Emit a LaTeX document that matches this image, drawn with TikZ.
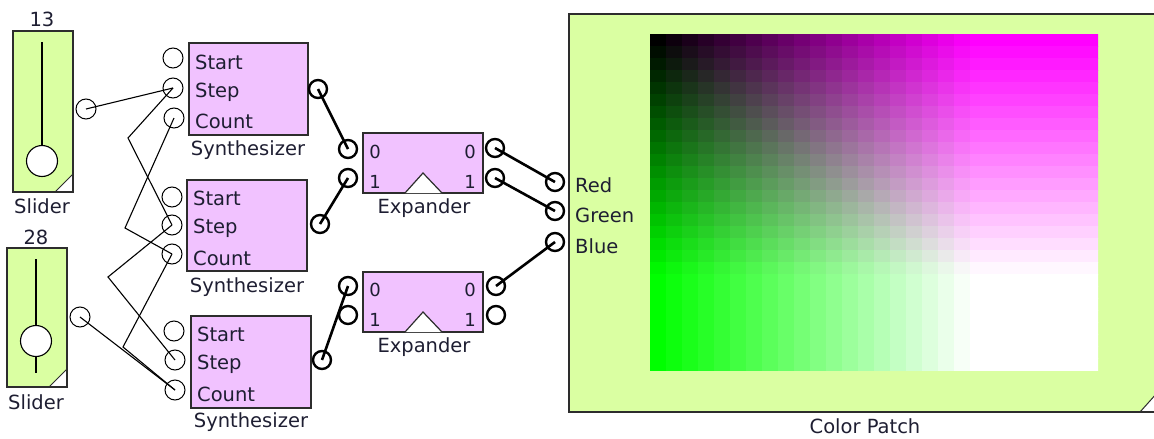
\documentclass[tikz,border=0pt]{standalone}
\usepackage{fontspec}
\setmainfont{DejaVu Sans}
\definecolor{edge}{RGB}{45,45,45}
\definecolor{txt}{RGB}{30,30,50}
\definecolor{sgreen}{RGB}{218,255,162}
\definecolor{spink}{RGB}{241,194,255}
\begin{document}
\begin{tikzpicture}[x=1pt,y=-1pt,
  box/.style={draw=edge,line width=1.4pt},
  tport/.style={circle,draw=black,line width=1pt,fill=white,minimum size=20pt,inner sep=0pt},
  kport/.style={circle,draw=black,line width=2.4pt,fill=white,minimum size=18pt,inner sep=0pt},
  twire/.style={draw=black,line width=1.1pt},
  kwire/.style={draw=black,line width=2.6pt},
  lbl/.style={font=\fontsize{19.5}{23}\selectfont,text=txt,inner sep=0pt},
  dig/.style={font=\fontsize{18}{22}\selectfont,text=txt,inner sep=0pt},
  knob/.style={circle,draw=black,line width=1.1pt,fill=white,minimum size=31pt,inner sep=0pt},
  corner/.style={fill=white,draw=edge,line width=1pt}
]
\useasboundingbox (0,0) rectangle (1154,439);

% ---------- Sliders ----------
\fill[sgreen] (13,31) rectangle (73,192);
\filldraw[corner] (55,192) -- (73,174) -- (73,192) -- cycle;
\draw[box] (13,31) rectangle (73,192);
\draw[line width=1.3pt] (42,42) -- (42,150);
\node[knob] (k1) at (42,161) {};
\node[lbl] (sv1) at (42,19) {13};
\node[lbl] (sl1) at (42,206) {Slider};

\fill[sgreen] (7,248) rectangle (67,387);
\filldraw[corner] (49,387) -- (67,369) -- (67,387) -- cycle;
\draw[box] (7,248) rectangle (67,387);
\draw[line width=1.3pt] (36,259) -- (36,373);
\node[knob] (k2) at (36,341) {};
\node[lbl] (sv2) at (36,237) {28};
\node[lbl] (sl2) at (36,402) {Slider};

% ---------- Synthesizers ----------
\filldraw[box,fill=spink] (189,43) rectangle (308,135);
\node[lbl,anchor=west] at (195,62) {Start};
\node[lbl,anchor=west] at (195,92) {Step};
\node[lbl,anchor=west] at (195,121) {Count};
\node[lbl] (ys1) at (248,150) {Synthesizer};

\filldraw[box,fill=spink] (187,180) rectangle (307,271);
\node[lbl,anchor=west] at (193,198) {Start};
\node[lbl,anchor=west] at (193,228) {Step};
\node[lbl,anchor=west] at (193,258) {Count};
\node[lbl] (ys2) at (247,287) {Synthesizer};

\filldraw[box,fill=spink] (191,316) rectangle (311,408);
\node[lbl,anchor=west] at (197,334) {Start};
\node[lbl,anchor=west] at (197,364) {Step};
\node[lbl,anchor=west] at (197,394) {Count};
\node[lbl] (ys3) at (251,422) {Synthesizer};

% ---------- Expanders ----------
\filldraw[box,fill=spink] (363,133) rectangle (483,193);
\filldraw[fill=white,draw=edge,line width=1.2pt] (405,193) -- (423,173) -- (442,193);
\node[dig] at (375,152) {0};
\node[dig] at (375,182) {1};
\node[dig] at (470,152) {0};
\node[dig] at (470,182) {1};
\node[lbl] (ex1) at (424,208) {Expander};

\filldraw[box,fill=spink] (363,272) rectangle (483,332);
\filldraw[fill=white,draw=edge,line width=1.2pt] (405,332) -- (423,312) -- (442,332);
\node[dig] at (375,290) {0};
\node[dig] at (375,320) {1};
\node[dig] at (470,290) {0};
\node[dig] at (470,320) {1};
\node[lbl] (ex2) at (424,347) {Expander};

% ---------- Color Patch ----------
\fill[sgreen] (569,14) rectangle (1157,412);
\filldraw[corner] (1140,412) -- (1157,393) -- (1157,412) -- cycle;
\draw[box] (569,14) rectangle (1157,412);
\begin{scope}
\clip (650,34) rectangle (1098,370);
\foreach \i in {0,...,27}{
  \foreach \j in {0,...,27}{
    \pgfmathtruncatemacro\rbval{min(255,13*\i)}
    \pgfmathtruncatemacro\gval{min(255,13*\j)}
    \fill[fill={rgb,255:red,\rbval;green,\gval;blue,\rbval}] (650+16*\i,34+12*\j) rectangle ++(16.6,12.6);
  }
}
\end{scope}
\node[lbl,anchor=west] at (575,185) {Red};
\node[lbl,anchor=west] at (575,215) {Green};
\node[lbl,anchor=west] at (575,246) {Blue};
\node[lbl] (cpl) at (865,426) {Color Patch};

% ---------- Ports ----------
\node[tport] (so1) at (86,109) {};
\node[tport] (so2) at (80,317) {};
\node[tport] (a1) at (173,58) {};
\node[tport] (b1) at (173,88) {};
\node[tport] (c1) at (174,118) {};
\node[tport] (a2) at (172,197) {};
\node[tport] (b2) at (172,225) {};
\node[tport] (c2) at (172,254) {};
\node[tport] (a3) at (174,331) {};
\node[tport] (b3) at (175,360) {};
\node[tport] (c3) at (175,390) {};
\node[kport] (o1) at (318,89) {};
\node[kport] (o2) at (320,224) {};
\node[kport] (o3) at (322,360) {};
\node[kport] (e1i0) at (348,149) {};
\node[kport] (e1i1) at (348,178) {};
\node[kport] (e1o0) at (495,148) {};
\node[kport] (e1o1) at (495,178) {};
\node[kport] (e2i0) at (348,286) {};
\node[kport] (e2i1) at (348,315) {};
\node[kport] (e2o0) at (496,286) {};
\node[kport] (e2o1) at (496,315) {};
\node[kport] (pr) at (555,182) {};
\node[kport] (pg) at (555,211) {};
\node[kport] (pb) at (555,242) {};

% ---------- Wires ----------
\coordinate (v1) at (128,138);
\coordinate (v2) at (108,277);
\coordinate (v3) at (123,347);
\coordinate (v4) at (125,228);
\draw[twire] (so1.center) -- (b1.center);
\draw[twire] (b1.center) -- (v1) -- (b2.center);
\draw[twire] (b2.center) -- (v2) -- (b3.center);
\draw[twire] (so2.center) -- (c3.center);
\draw[twire] (c3.center) -- (v3) -- (c2.center);
\draw[twire] (c2.center) -- (v4) -- (c1.center);

\draw[kwire] (o1.center) -- (e1i0.center);
\draw[kwire] (o2.center) -- (e1i1.center);
\draw[kwire] (o3.center) -- (e2i0.center);
\draw[kwire] (e1o0.center) -- (pr.center);
\draw[kwire] (e1o1.center) -- (pg.center);
\draw[kwire] (e2o0.center) -- (pb.center);
\end{tikzpicture}
\end{document}
